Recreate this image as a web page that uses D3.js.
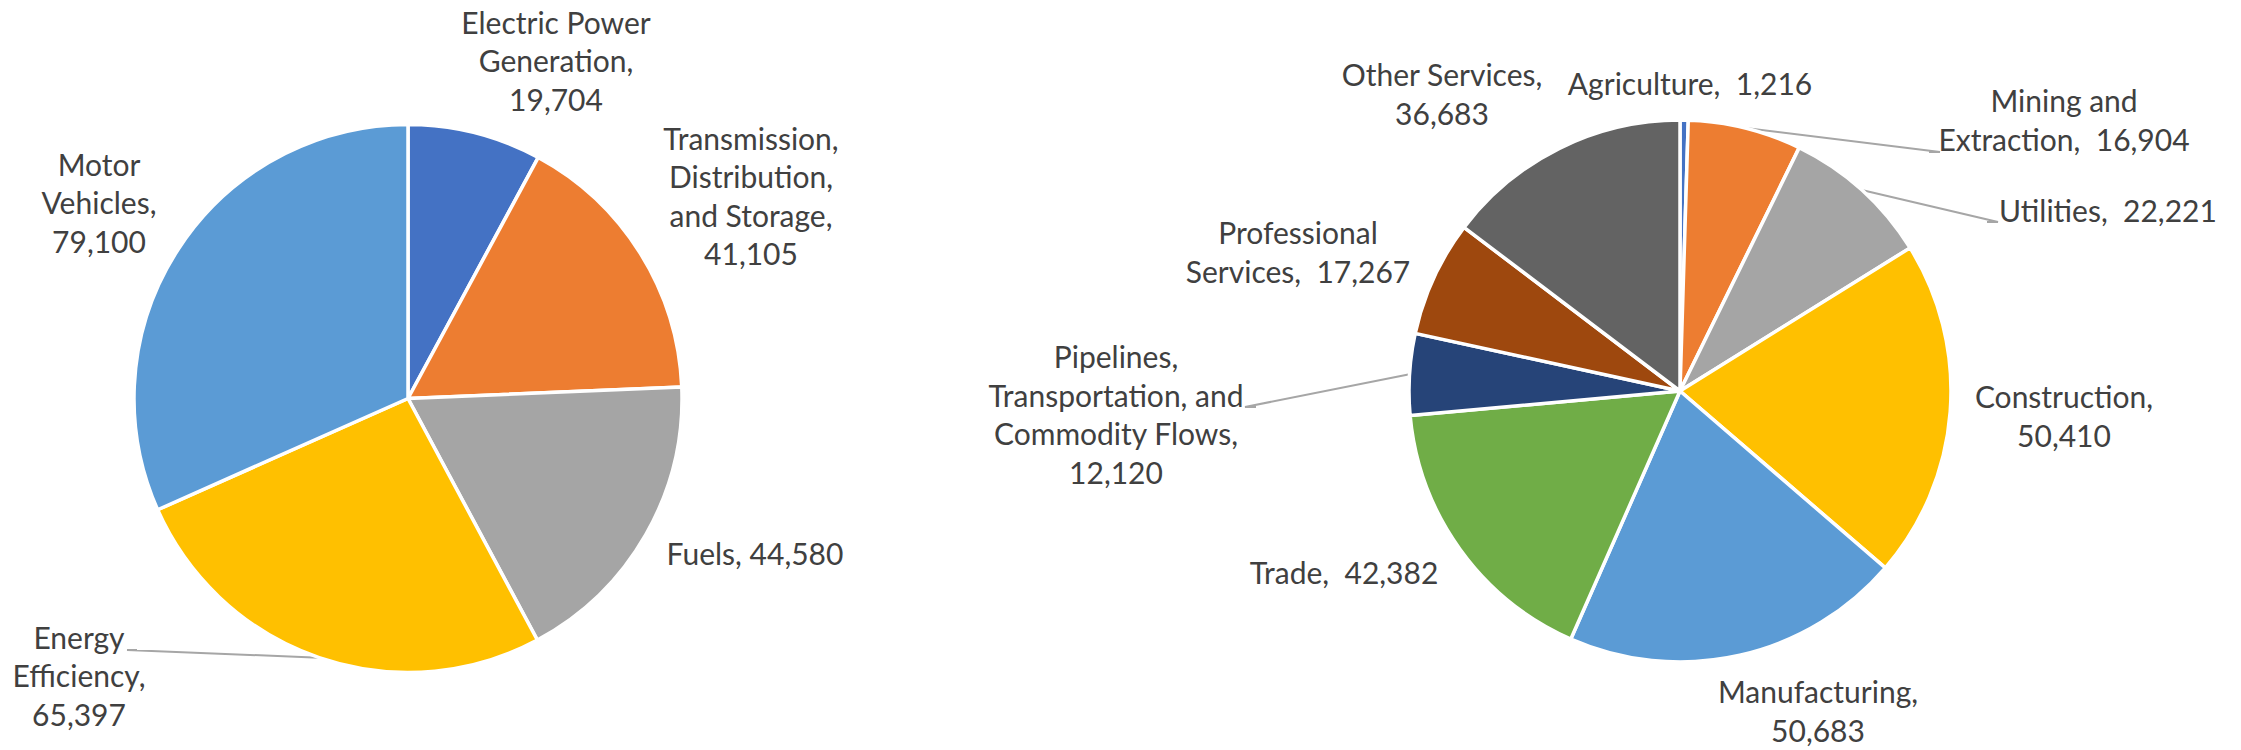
<!DOCTYPE html>
<html>
<head>
<meta charset="utf-8">
<script src="https://cdn.jsdelivr.net/npm/d3@7"></script>
<style>
  html, body { margin: 0; padding: 0; background: #fff; }
  svg text { font-family: Lato, "Open Sans", sans-serif; fill: #404040; white-space: pre; }
</style>
</head>
<body>
<svg id="chart" width="2241" height="750"></svg>
<script>
// Jobs by technology (left pie)
const techCategories = [
  "Electric Power Generation",
  "Transmission, Distribution, and Storage",
  "Fuels",
  "Energy Efficiency",
  "Motor Vehicles"
];
const techValues = [19704, 41105, 44580, 65397, 79100];
const techLabelLines = [
  ["Electric Power", "Generation,"],
  ["Transmission,", "Distribution,", "and Storage,"],
  ["Fuels, "],
  ["Energy", "Efficiency,"],
  ["Motor", "Vehicles,"]
];

// Jobs by industry (right pie)
const industryCategories = [
  "Agriculture",
  "Mining and Extraction",
  "Utilities",
  "Construction",
  "Manufacturing",
  "Trade",
  "Pipelines, Transportation, and Commodity Flows",
  "Professional Services",
  "Other Services"
];
const industryValues = [1216, 16904, 22221, 50410, 50683, 42382, 12120, 17267, 36683];
const industryLabelLines = [
  ["Agriculture,  "],
  ["Mining and", "Extraction,  "],
  ["Utilities,  "],
  ["Construction,"],
  ["Manufacturing,"],
  ["Trade,  "],
  ["Pipelines,", "Transportation, and", "Commodity Flows,"],
  ["Professional", "Services,  "],
  ["Other Services,"]
];

const officePalette = ["#4472C4", "#ED7D31", "#A5A5A5", "#FFC000", "#5B9BD5",
                       "#70AD47", "#264478", "#9E480E", "#636363"];

// ---- layout ----
const fmt = d3.format(",");
const lineH = 38.5;
const baselineShift = 9;

// label placement relative to each pie centre: x = text centre, y = first line centre.
// lead: optional leader line attach point (relative), drawn with a short horizontal stub.
const techLayout = [
  { dx: 148,  dy: -374 },
  { dx: 343,  dy: -258 },
  { dx: 347,  dy: 157 },
  { dx: -329, dy: 241, lead: { x: -281, y: 251.5, stub: 10 } },
  { dx: -309, dy: -232 }
];
const industryLayout = [
  { dx: 10,   dy: -305 },
  { dx: 384,  dy: -288, lead: { x: 260, y: -239, stub: -11 } },
  { dx: 428,  dy: -178, lead: { x: 318, y: -169, stub: -11 } },
  { dx: 384,  dy: 8 },
  { dx: 138,  dy: 303 },
  { dx: -336, dy: 184 },
  { dx: -564, dy: -32, lead: { x: -435, y: 16, stub: 11 } },
  { dx: -382, dy: -156 },
  { dx: -238, dy: -314 }
];

const svg = d3.select("#chart");

function drawPie(cfg) {
  const { cx, cy, r, values, lines, layout, colors } = cfg;
  const g = svg.append("g").attr("transform", `translate(${cx},${cy})`);

  const pie = d3.pie().sort(null).value(d => d);
  const arcs = pie(values);
  const arc = d3.arc().innerRadius(0).outerRadius(r);
  const rim = d3.arc().innerRadius(r).outerRadius(r);

  // leader lines behind slices
  arcs.forEach((a, i) => {
    const L = layout[i].lead;
    if (!L) return;
    const [px, py] = rim.centroid(a);
    g.append("polyline")
      .attr("points", [[L.x + L.stub, L.y], [L.x, L.y], [px, py]].map(p => p.join(",")).join(" "))
      .attr("fill", "none")
      .attr("stroke", "#A6A6A6")
      .attr("stroke-width", 2);
  });

  g.selectAll("path.slice")
    .data(arcs)
    .join("path")
    .attr("class", "slice")
    .attr("d", arc)
    .attr("fill", (d, i) => colors[i])
    .attr("stroke", "#fff")
    .attr("stroke-width", 3.5)
    .attr("stroke-linejoin", "round");

  arcs.forEach((a, i) => {
    const pos = layout[i];
    const txt = lines[i].slice();
    const last = txt.length - 1;
    const value = fmt(values[i]);
    // a label whose last name line ends with a space carries its value on the same line
    if (/\s$/.test(txt[last])) txt[last] = txt[last] + value;
    else txt.push(value);
    const t = g.append("text")
      .attr("text-anchor", "middle")
      .attr("font-size", 30);
    txt.forEach((s, k) => {
      t.append("tspan")
        .attr("x", pos.dx)
        .attr("y", pos.dy + k * lineH + baselineShift)
        .text(s);
    });
  });
}

drawPie({
  cx: 408, cy: 398.5, r: 274,
  values: techValues, lines: techLabelLines, layout: techLayout,
  colors: officePalette.slice(0, 5)
});

drawPie({
  cx: 1680, cy: 391, r: 271,
  values: industryValues, lines: industryLabelLines, layout: industryLayout,
  colors: officePalette
});
</script>
</body>
</html>
